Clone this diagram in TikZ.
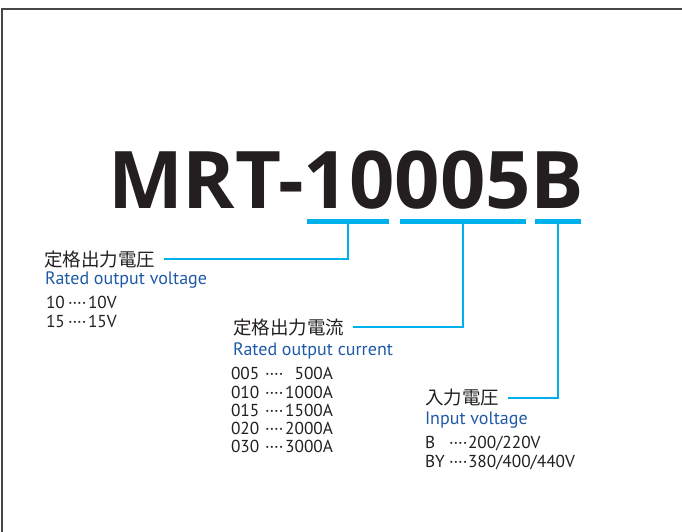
\documentclass[tikz,border=0pt]{standalone}
\usepackage{fontspec}
\setmainfont{PT Sans}
\newfontfamily\cjk{Noto Sans CJK JP}
\newfontfamily\titlefont{Open Sans}
\definecolor{cyanline}{HTML}{00B0EB}
\definecolor{bluetext}{HTML}{1F5AA8}
\definecolor{inkc}{HTML}{231F20}
\begin{document}
\begin{tikzpicture}[x=1pt,y=-1pt,
  every node/.style={inner sep=0pt, outer sep=0pt, text=inkc},
  cjklabel/.style={anchor=west, font=\cjk\fontsize{18.5}{20}\selectfont},
  entext/.style={anchor=base west, text=bluetext, font=\fontsize{18}{20}\selectfont},
  valtext/.style={anchor=base west, font=\fontsize{17.3}{18}\selectfont},
  valtextr/.style={anchor=base east, font=\fontsize{17.3}{18}\selectfont},
  bar/.style={fill=cyanline, minimum height=5pt, inner sep=0pt},
  conn/.style={draw=cyanline, line width=2.8pt},
  frameline/.style={draw=black!72, line width=2.5pt},
]
\useasboundingbox (0,0) rectangle (682,531);
\draw[frameline] (683,9) -- (2,9) -- (2,532);

\node[anchor=base west, font=\titlefont\bfseries\fontsize{79.5}{80}\selectfont] (title) at (108,208) {MRT-10005B};

\node[bar, minimum width=82pt]  (bar1) at (348,221.5) {};
\node[bar, minimum width=126pt] (bar2) at (463,221.5) {};
\node[bar, minimum width=46pt]  (bar3) at (558,221.5) {};

% group 1
\node[cjklabel] (l1) at (44,259) {定格出力電圧};
\node[entext] (e1) at (45,284) {Rated output voltage};
\node[valtext] (k11) at (46,308) {10};
\node[valtext] (d11) at (68,308) {····};
\node[valtext] (v11) at (88,308) {10V};
\node[valtext] (k12) at (46,327) {15};
\node[valtext] (d12) at (68,327) {····};
\node[valtext] (v12) at (88,327) {15V};

% group 2
\node[cjklabel] (l2) at (233,327) {定格出力電流};
\node[entext] (e2) at (233,355) {Rated output current};
\node[valtext] (k21) at (231,379) {005};
\node[valtext] (d21) at (265,379) {····};
\node[valtextr] (v21) at (333,379) {500A};
\node[valtext] (k22) at (231,398) {010};
\node[valtext] (d22) at (265,398) {····};
\node[valtextr] (v22) at (333,398) {1000A};
\node[valtext] (k23) at (231,416) {015};
\node[valtext] (d23) at (265,416) {····};
\node[valtextr] (v23) at (333,416) {1500A};
\node[valtext] (k24) at (231,434) {020};
\node[valtext] (d24) at (265,434) {····};
\node[valtextr] (v24) at (333,434) {2000A};
\node[valtext] (k25) at (231,452) {030};
\node[valtext] (d25) at (265,452) {····};
\node[valtextr] (v25) at (333,452) {3000A};

% group 3
\node[cjklabel] (l3) at (425,398) {入力電圧};
\node[entext] (e3) at (425,424) {Input voltage};
\node[valtext] (k31) at (425,448) {B};
\node[valtext] (d31) at (449,448) {····};
\node[valtext] (v31) at (468,448) {200/220V};
\node[valtext] (k32) at (425,467) {BY};
\node[valtext] (d32) at (449,467) {····};
\node[valtext] (v32) at (468,467) {380/400/440V};

% connectors
\draw[conn] (bar1.center) |- ([xshift=9pt]l1.east);
\draw[conn] (bar2.center) |- ([xshift=9pt]l2.east);
\draw[conn] (bar3.center) |- ([xshift=9pt]l3.east);
\end{tikzpicture}
\end{document}
